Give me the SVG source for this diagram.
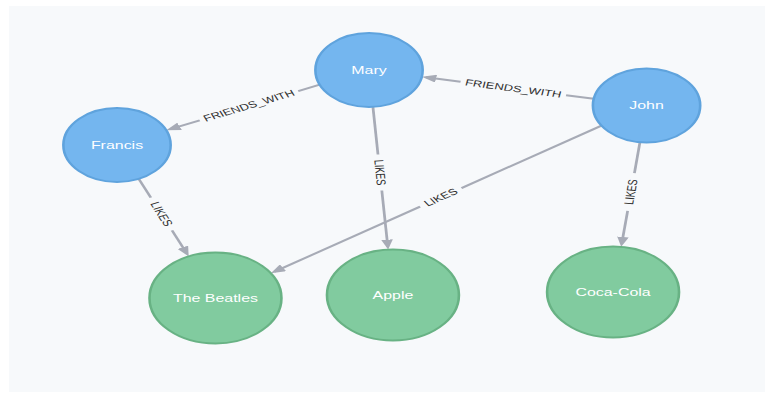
<svg xmlns="http://www.w3.org/2000/svg" width="765" height="398" viewBox="0 0 765 398">
<style>
.person{fill:#74b6ef;stroke:#5fa3dd;stroke-width:1.8}
.thing{fill:#81cb9f;stroke:#68b284;stroke-width:1.8}
.cap{font-family:"Liberation Sans",Arial,sans-serif;font-size:11px;fill:#ffffff;text-anchor:middle}
.edge{fill:none;stroke:#a7abb6;stroke-width:1.9}
.lbl{font-family:"Liberation Sans",Arial,sans-serif;font-size:9px;fill:#2e2e2e;text-anchor:middle}
</style>
<defs>
<marker id="arr" markerUnits="userSpaceOnUse" markerWidth="10" markerHeight="8" viewBox="0 0 10 8" refX="7" refY="4" orient="auto">
<path d="M0,0 L10,4 L0,8 z" fill="#a7abb6"/>
</marker>
</defs>
<rect x="0" y="0" width="765" height="398" fill="#ffffff"/>
<rect x="9" y="6" width="756" height="386" fill="#f7f9fb"/>
<g transform="scale(1.45 1)">
<g id="connectors">
<g id="e-mary-francis">
<path class="edge" d="M220.53,84.66 L205.67,91.04"/>
<path class="edge" d="M137.73,120.36 L117.42,129.15" marker-end="url(#arr)"/>
<text class="lbl" transform="translate(171.7 105.7) rotate(-23.3)" y="3">FRIENDS_WITH</text>
</g>
<g id="e-john-mary">
<path class="edge" d="M409.52,98.75 L390.38,95.25"/>
<path class="edge" d="M317.62,81.75 L293.83,77.3" marker-end="url(#arr)"/>
<text class="lbl" transform="translate(354 88.5) rotate(10.5)" y="3">FRIENDS_WITH</text>
</g>
<g id="e-mary-apple">
<path class="edge" d="M257.2,106.9 L260.68,154.55"/>
<path class="edge" d="M263.32,190.45 L267.45,246.63" marker-end="url(#arr)"/>
<text class="lbl" transform="translate(262 172.5) rotate(85.8)" y="3">LIKES</text>
</g>
<g id="e-francis-beatles">
<path class="edge" d="M95.71,178.82 L104.02,197.55"/>
<path class="edge" d="M118.62,230.45 L128.92,253.67" marker-end="url(#arr)"/>
<text class="lbl" transform="translate(111.32 214) rotate(66.1)" y="3">LIKES</text>
</g>
<g id="e-john-beatles">
<path class="edge" d="M414.84,125.61 L318.27,188.16"/>
<path class="edge" d="M289.73,206.64 L189.31,271.64" marker-end="url(#arr)"/>
<text class="lbl" transform="translate(304 197.4) rotate(-32.9)" y="3">LIKES</text>
</g>
<g id="e-john-cocacola">
<path class="edge" d="M441.35,142.22 L437.54,173.14"/>
<path class="edge" d="M432.86,210.86 L428.76,243.87" marker-end="url(#arr)"/>
<text class="lbl" transform="translate(435.2 192) rotate(-82.94)" y="3">LIKES</text>
</g>
</g>
<g id="mary"><circle class="person" cx="254.5" cy="70" r="37"/><text class="cap" x="254.5" y="74">Mary</text></g>
<g id="john"><circle class="person" cx="445.9" cy="105.5" r="37"/><text class="cap" x="445.9" y="109.5">John</text></g>
<g id="francis"><circle class="person" cx="80.7" cy="145" r="37"/><text class="cap" x="80.7" y="149">Francis</text></g>
<g id="the-beatles"><circle class="thing" cx="148.6" cy="298" r="45.5"/><text class="cap" x="148.6" y="302">The Beatles</text></g>
<g id="apple"><circle class="thing" cx="271" cy="295" r="45.5"/><text class="cap" x="271" y="299">Apple</text></g>
<g id="coca-cola"><circle class="thing" cx="422.8" cy="292" r="45.5"/><text class="cap" x="422.8" y="296">Coca-Cola</text></g>
</g>
</svg>
